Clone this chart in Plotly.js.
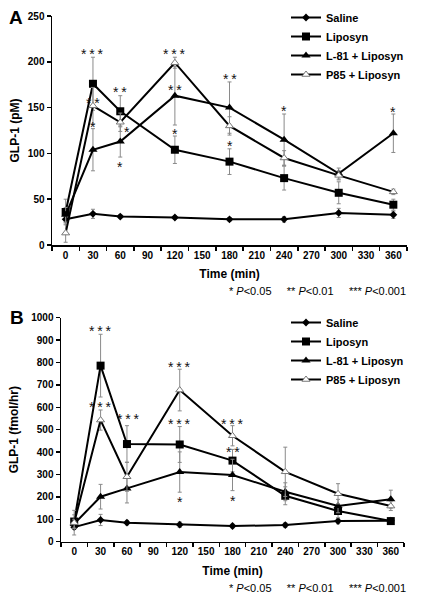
<!DOCTYPE html>
<html><head><meta charset="utf-8">
<script src="https://cdn.plot.ly/plotly-3.0.1.min.js"></script>
<style>body{margin:0;background:#fff}#c{width:422px;height:599px}</style>
</head><body><div id="c"></div>
<script>
// ---- data ----
const time = [0, 30, 60, 120, 180, 240, 300, 360];
const seriesNames = ["Saline", "Liposyn", "L-81 + Liposyn", "P85 + Liposyn"];
const xTickVals = [0,30,60,90,120,150,180,210,240,270,300,330,360];

// Panel A: GLP-1 (pM)
const salineA  = [28, 34, 31, 30, 28, 28, 35, 33];
const salineAErr = [3, 5, 2, 2, 2, 3, 5, 4];
const liposynA = [36, 176, 146, 104, 91, 73, 57, 44];
const liposynAErr = [14, 29, 17, 15, 14, 13, 12, 6];
const l81A     = [33, 104, 113, 163, 150, 115, 78, 122];
const l81AErr  = [8, 23, 17, 32, 28, 28, 6, 21];
const p85A     = [13, 152, 134, 199, 130, 95, 76, 58];
const p85AErr  = [10, 20, 10, 6, 10, 8, 5, 3];

// Panel B: GLP-1 (fmol/hr)
const salineB  = [65, 97, 85, 76, 70, 74, 92, 94];
const salineBErr = [10, 25, 10, 12, 8, 10, 12, 10];
const liposynB = [90, 786, 436, 434, 362, 205, 137, 92];
const liposynBErr = [30, 140, 82, 80, 50, 40, 30, 15];
const l81B     = [80, 201, 238, 311, 298, 223, 159, 190];
const l81BErr  = [20, 55, 65, 90, 70, 40, 30, 40];
const p85B     = [85, 543, 290, 677, 473, 312, 214, 159];
const p85BErr  = [55, 45, 65, 93, 45, 110, 45, 20];

// significance marks
const sigAx = [30, 30, 30, 60, 67, 60, 120, 120, 120, 180, 180, 240, 360];
const sigAy = [213, 159, 133, 171, 128, 89, 213, 174, 126, 186, 112, 151, 150];
const sigAt = ["***","**","*","**","*","*","***","**","*","**","*","*","*"];
const sigBx = [30, 30, 62, 120, 120, 120, 180, 180, 180];
const sigBy = [957, 617, 565, 800, 543, 193, 543, 417, 201];
const sigBt = ["***","***","***","***","***","*","***","**","*"];

const pNote = "*\u00A0<i>P</i>&lt;0.05\u00A0\u00A0\u00A0\u00A0\u00A0**\u00A0<i>P</i>&lt;0.01\u00A0\u00A0\u00A0\u00A0\u00A0***\u00A0<i>P</i>&lt;0.001";

// ---- styles ----
const FONT = "Liberation Sans, Arial, sans-serif";
const styles = [
  {symbol: "diamond", size: 6, color: "#000", line: {color: "#000", width: 0}},
  {symbol: "square", size: 8, color: "#000", line: {color: "#000", width: 0}},
  {symbol: "triangle-up", size: 8, color: "#000", line: {color: "#000", width: 0}},
  {symbol: "triangle-up", size: 7, color: "#fff", line: {color: "#777", width: 1}}
];
function mk(name, i, y, err, xa, ya, leg) {
  return {
    type: "scatter", mode: "lines+markers", name: name, x: time, y: y,
    xaxis: xa, yaxis: ya, legend: leg,
    line: {color: "#000", width: 2},
    marker: styles[i],
    error_y: {type: "data", array: err, visible: true, color: "#8a8a8a", thickness: 1, width: 2},
    cliponaxis: false
  };
}
const traces = [
  mk(seriesNames[0], 0, salineA, salineAErr, "x", "y", "legend"),
  mk(seriesNames[1], 1, liposynA, liposynAErr, "x", "y", "legend"),
  mk(seriesNames[2], 2, l81A, l81AErr, "x", "y", "legend"),
  mk(seriesNames[3], 3, p85A, p85AErr, "x", "y", "legend"),
  mk(seriesNames[0], 0, salineB, salineBErr, "x2", "y2", "legend2"),
  mk(seriesNames[1], 1, liposynB, liposynBErr, "x2", "y2", "legend2"),
  mk(seriesNames[2], 2, l81B, l81BErr, "x2", "y2", "legend2"),
  mk(seriesNames[3], 3, p85B, p85BErr, "x2", "y2", "legend2")
];

const bold10 = {family: FONT, size: 10, color: "#000", weight: "bold"};
const bold12 = {family: FONT, size: 12, color: "#000", weight: "bold"};
function xax(domain, anchor) {
  return {
    domain: domain, anchor: anchor, range: [-15, 375],
    tickmode: "array", tickvals: xTickVals, ticks: "", tickfont: bold10,
    showline: true, linecolor: "#000", linewidth: 1.5, showgrid: false, zeroline: false,
    minor: {tick0: -15, dtick: 30, ticks: "outside", ticklen: 4, tickwidth: 1.5, tickcolor: "#000", showgrid: false},
    title: {text: "Time (min)", font: bold12, standoff: 10}
  };
}
function yax(domain, anchor, range, dtick, title, standoff) {
  return {
    domain: domain, anchor: anchor, range: range, dtick: dtick, tick0: 0,
    ticks: "outside", ticklen: 4, tickwidth: 1.5, tickcolor: "#000", tickfont: bold10,
    showline: true, linecolor: "#000", linewidth: 1.5, showgrid: false, zeroline: false,
    title: {text: title, font: bold12, standoff: standoff}
  };
}
const annotations = [];
function addSig(xs, ys, ts, xa, ya) {
  xs.forEach((x, i) => annotations.push({
    x: x, y: ys[i], xref: xa, yref: ya, text: ts[i].split("").join("\u2009"),
    showarrow: false, yshift: -4, font: {family: FONT, size: 14, color: "#111"}
  }));
}
addSig(sigAx, sigAy, sigAt, "x", "y");
addSig(sigBx, sigBy, sigBt, "x2", "y2");
annotations.push(
  {x: 16/422, y: 1 - 17/599, xref: "paper", yref: "paper", xanchor: "center", yanchor: "middle", text: "A", showarrow: false,
   font: {family: FONT, size: 19, color: "#000", weight: "bold"}},
  {x: 17/422, y: 1 - 317/599, xref: "paper", yref: "paper", xanchor: "center", yanchor: "middle", text: "B", showarrow: false,
   font: {family: FONT, size: 19, color: "#000", weight: "bold"}},
  {x: 408/422, y: 1 - 291/599, xref: "paper", yref: "paper", xanchor: "right", yanchor: "middle", text: pNote, showarrow: false,
   font: {family: FONT, size: 11, color: "#000"}},
  {x: 408/422, y: 1 - 588/599, xref: "paper", yref: "paper", xanchor: "right", yanchor: "middle", text: pNote, showarrow: false,
   font: {family: FONT, size: 11, color: "#000"}}
);
const legBase = {xanchor: "left", yanchor: "top", bgcolor: "rgba(0,0,0,0)", borderwidth: 0,
  font: {family: FONT, size: 11, color: "#000", weight: "bold"}, itemwidth: 30, tracegroupgap: 0};
const layout = {
  width: 422, height: 599, margin: {l: 0, r: 0, t: 0, b: 0},
  paper_bgcolor: "#fff", plot_bgcolor: "#fff", showlegend: true,
  xaxis: xax([52/422, 407/422], "y"),
  yaxis: yax([354/599, 583/599], "x", [0, 250], 50, "GLP-1 (pM)", 5),
  xaxis2: xax([61/422, 404/422], "y2"),
  yaxis2: yax([57.3/599, 281.3/599], "x2", [0, 1000], 100, "GLP-1 (fmol/hr)", 10),
  legend: Object.assign({}, legBase, {x: 286/422, y: 1 - 3/599}),
  legend2: Object.assign({}, legBase, {x: 286/422, y: 1 - 308/599}),
  annotations: annotations
};
Plotly.newPlot("c", traces, layout, {staticPlot: true, displayModeBar: false});
</script>
</body></html>
